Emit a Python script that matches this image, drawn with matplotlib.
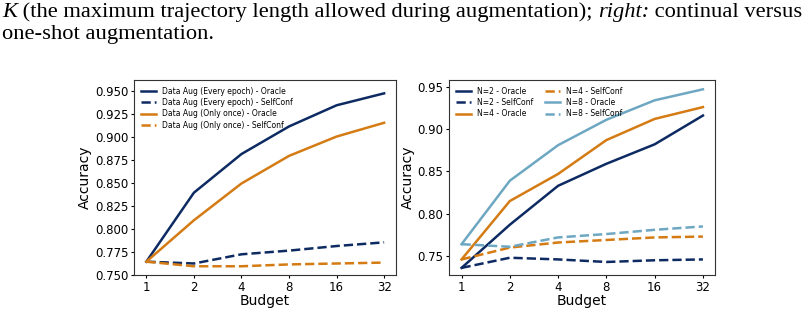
import matplotlib
matplotlib.use("Agg")
import matplotlib.pyplot as plt

budgets = ["1", "2", "4", "8", "16", "32"]

# left panel: continual vs one-shot augmentation
every_oracle = [0.764, 0.839, 0.881, 0.911, 0.934, 0.947]
every_selfconf = [0.764, 0.762, 0.772, 0.776, 0.781, 0.785]
once_oracle = [0.764, 0.809, 0.849, 0.879, 0.900, 0.915]
once_selfconf = [0.764, 0.759, 0.759, 0.761, 0.762, 0.763]

# right panel: trajectory length N
n2_oracle = [0.736, 0.787, 0.833, 0.859, 0.882, 0.916]
n2_selfconf = [0.736, 0.748, 0.746, 0.743, 0.745, 0.746]
n4_oracle = [0.746, 0.815, 0.847, 0.887, 0.912, 0.926]
n4_selfconf = [0.746, 0.760, 0.766, 0.769, 0.772, 0.773]
n8_oracle = [0.764, 0.839, 0.881, 0.911, 0.934, 0.947]
n8_selfconf = [0.764, 0.761, 0.772, 0.776, 0.781, 0.785]

navy = "#0d2b62"
orange = "#d47b14"
lightblue = "#6ea7c2"

W, H = 804, 310
fig = plt.figure(figsize=(W / 100, H / 100), dpi=100)

# caption text from the paper page, built piece by piece (italic + roman)
renderer = fig.canvas.get_renderer()
cap_size = 16.2
pieces = [("K", "italic"), (" (the maximum trajectory length allowed during augmentation); ", "normal"),
          ("right:", "italic"), (" continual versus", "normal")]
xpos = 2
for txt, style in pieces:
    t = fig.text(xpos / W, 1 - 17 / H, txt, family="Liberation Serif", style=style,
                 fontsize=cap_size, va="baseline", ha="left")
    xpos += t.get_window_extent(renderer).width
fig.text(2 / W, 1 - 39 / H, "one-shot augmentation.", family="Liberation Serif",
         fontsize=cap_size, va="baseline", ha="left")

ax1 = fig.add_axes([134 / W, 1 - 275 / H, (396 - 134) / W, (275 - 80) / H])
ax2 = fig.add_axes([449 / W, 1 - 275 / H, (715 - 449) / W, (275 - 80) / H])

x = list(range(len(budgets)))
lw = 1.8

ax1.plot(x, every_oracle, color=navy, lw=lw, label="Data Aug (Every epoch) - Oracle")
ax1.plot(x, every_selfconf, color=navy, lw=lw, ls="--", label="Data Aug (Every epoch) - SelfConf")
ax1.plot(x, once_oracle, color=orange, lw=lw, label="Data Aug (Only once) - Oracle")
ax1.plot(x, once_selfconf, color=orange, lw=lw, ls="--", label="Data Aug (Only once) - SelfConf")
ax1.set_ylim(0.7495, 0.9615)
ax1.set_yticks([0.750, 0.775, 0.800, 0.825, 0.850, 0.875, 0.900, 0.925, 0.950])
ax1.set_yticklabels(["%.3f" % v for v in ax1.get_yticks()])
ax1.legend(loc="upper left", fontsize=5.5, frameon=False, labelspacing=0.3)

ax2.plot(x, n2_oracle, color=navy, lw=lw, label="N=2 - Oracle")
ax2.plot(x, n2_selfconf, color=navy, lw=lw, ls="--", label="N=2 - SelfConf")
ax2.plot(x, n4_oracle, color=orange, lw=lw, label="N=4 - Oracle")
ax2.plot(x, n4_selfconf, color=orange, lw=lw, ls="--", label="N=4 - SelfConf")
ax2.plot(x, n8_oracle, color=lightblue, lw=lw, label="N=8 - Oracle")
ax2.plot(x, n8_selfconf, color=lightblue, lw=lw, ls="--", label="N=8 - SelfConf")
ax2.set_ylim(0.7276, 0.958)
ax2.set_yticks([0.75, 0.80, 0.85, 0.90, 0.95])
ax2.set_yticklabels(["%.2f" % v for v in ax2.get_yticks()])
ax2.legend(loc="upper left", ncol=2, fontsize=5.5, frameon=False, columnspacing=1.5,
           labelspacing=0.3)

for ax in (ax1, ax2):
    ax.set_xticks(x)
    ax.set_xticklabels(budgets)
    ax.set_xlim(-0.26, 5.25)
    ax.tick_params(labelsize=8.5, length=2.5, pad=1.5)
    ax.set_xlabel("Budget", fontsize=10, labelpad=0)
    ax.set_ylabel("Accuracy", fontsize=10, labelpad=2)
    for s in ax.spines.values():
        s.set_color("#333333")

fig.savefig("out.png", dpi=100)
